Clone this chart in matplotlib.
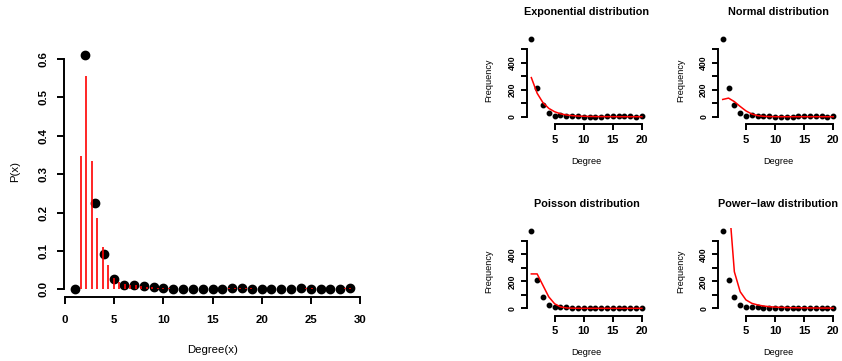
import matplotlib
matplotlib.use("Agg")
import matplotlib.pyplot as plt
import numpy as np

plt.rcParams['font.family'] = ['Liberation Sans', 'DejaVu Sans']

# left panel: observed degree distribution
degree = list(range(1, 30))
prob = [0.0, 0.61, 0.224, 0.093, 0.027, 0.010, 0.012, 0.008, 0.005, 0.003,
        0.001, 0.001, 0.001, 0.001, 0.002, 0.002, 0.003, 0.004, 0.002, 0.001,
        0.002, 0.002, 0.002, 0.003, 0.002, 0.001, 0.001, 0.002, 0.003]

# red spikes (density on a 51 point grid from 1 to 29)
dens_x = np.linspace(1, 29, 51)
dens_y = [0.0, 0.348, 0.556, 0.334, 0.187, 0.111, 0.064, 0.030, 0.018, 0.015,
          0.012, 0.011, 0.009, 0.007, 0.005, 0.004, 0.003, 0.003, 0.002, 0.002,
          0.002, 0.002, 0.002, 0.002, 0.002, 0.002, 0.002, 0.002, 0.003, 0.003,
          0.003, 0.003, 0.003, 0.002, 0.002, 0.002, 0.002, 0.002, 0.002, 0.002,
          0.002, 0.002, 0.003, 0.003, 0.002, 0.002, 0.002, 0.002, 0.002, 0.003,
          0.003]

# right panels: frequencies and fitted curves
sub_deg = list(range(1, 21))
freq = [574, 211, 87, 25, 9, 11, 8, 5, 3, 1, 1, 1, 1, 2, 2, 3, 4, 2, 1, 2]
exp_fit = [290, 174, 104, 62, 37, 22, 13, 8, 5, 3, 2, 1, 1, 0.5, 0.3, 0.2, 0.1, 0.1, 0, 0]
norm_fit = [128, 138, 112, 76, 43, 20, 8, 3, 1, 0.3, 0, 0, 0, 0, 0, 0, 0, 0, 0, 0]
pois_fit = [255, 255, 170, 85, 34, 11, 3, 1, 0.2, 0, 0, 0, 0, 0, 0, 0, 0, 0, 0, 0]
power_fit = [5650, 824, 271, 123, 62, 37, 25, 17, 12, 9, 7, 5.5, 4.5, 3.8, 3.2, 2.7, 2.3, 2.0, 1.8, 1.6]

titles = ["Exponential distribution", "Normal distribution",
          "Poisson distribution", "Power\u2212law distribution"]
fits = [exp_fit, norm_fit, pois_fit, power_fit]

W, H = 842, 361
fig = plt.figure(figsize=(W / 100, H / 100), dpi=100)


def px_axes(left, top, right, bottom):
    return fig.add_axes([left / W, 1 - bottom / H, (right - left) / W, (bottom - top) / H])


def r_style(ax, xb, yb, ticklen, xfs, yfs):
    for s in ['top', 'right']:
        ax.spines[s].set_visible(False)
    ax.spines['left'].set_bounds(*yb)
    ax.spines['bottom'].set_bounds(*xb)
    for s in ['left', 'bottom']:
        ax.spines[s].set_linewidth(1.4)
    ax.tick_params(direction='out', length=ticklen, width=1.4)
    ax.tick_params(axis='x', labelsize=xfs)
    ax.tick_params(axis='y', labelsize=yfs)
    for lab in ax.get_xticklabels() + ax.get_yticklabels():
        lab.set_fontweight('bold')
    for lab in ax.get_yticklabels():
        lab.set_rotation(90)
        lab.set_va('center')


# left panel
ax = px_axes(64, 46, 361, 296.7)
ax.plot(degree, prob, 'o', color='black', ms=6, zorder=2)
ax.vlines(dens_x, 0, dens_y, color='red', lw=1.2, zorder=3)
ax.set_xlim(-0.12, 30.12)
ax.set_ylim(-0.0193, 0.634)
ax.set_xticks([0, 5, 10, 15, 20, 25, 30])
ax.set_yticks([0.0, 0.1, 0.2, 0.3, 0.4, 0.5, 0.6])
ax.set_yticklabels(['0.0', '0.1', '0.2', '0.3', '0.4', '0.5', '0.6'])
ax.tick_params(axis='x', pad=8)
ax.tick_params(axis='y', pad=6)
r_style(ax, (0, 30), (0, 0.6), 5, 8.2, 8.2)
ax.set_xlabel('Degree(x)', fontsize=8.2)
ax.set_ylabel('P(x)', fontsize=8.2)
ax.xaxis.set_label_coords(0.5, -0.194)
ax.yaxis.set_label_coords(-0.148, 0.5)

# right panels
boxes = [(526.9, 36.2), (718.3, 36.2), (526.9, 227.8), (718.3, 227.8)]
for (lx, ty), title, fit in zip(boxes, titles, fits):
    a = px_axes(lx, ty, lx + 119.4, ty + 87.8)
    a.plot(sub_deg, freq, 'o', color='black', ms=3.2, zorder=2)
    a.plot(sub_deg, fit, color='red', lw=1.1, zorder=3)
    a.set_xlim(0.24, 20.76)
    a.set_ylim(-54, 597)
    a.set_xticks([5, 10, 15, 20])
    a.set_yticks([0, 100, 200, 300, 400, 500])
    a.set_yticklabels(['0', '', '200', '', '400', ''])
    a.tick_params(axis='x', pad=3.5)
    a.tick_params(axis='y', pad=3)
    r_style(a, (5, 20), (0, 500), 4.3, 8, 6.2)
    a.set_xlabel('Degree', fontsize=6.6)
    a.set_ylabel('Frequency', fontsize=6.6)
    a.xaxis.set_label_coords(0.5, -0.374)
    a.yaxis.set_label_coords(-0.278, 0.5)
    a.set_title(title, fontsize=7.8, fontweight='bold', y=1.27, va='center', pad=0)

fig.savefig('out.png', dpi=100)
